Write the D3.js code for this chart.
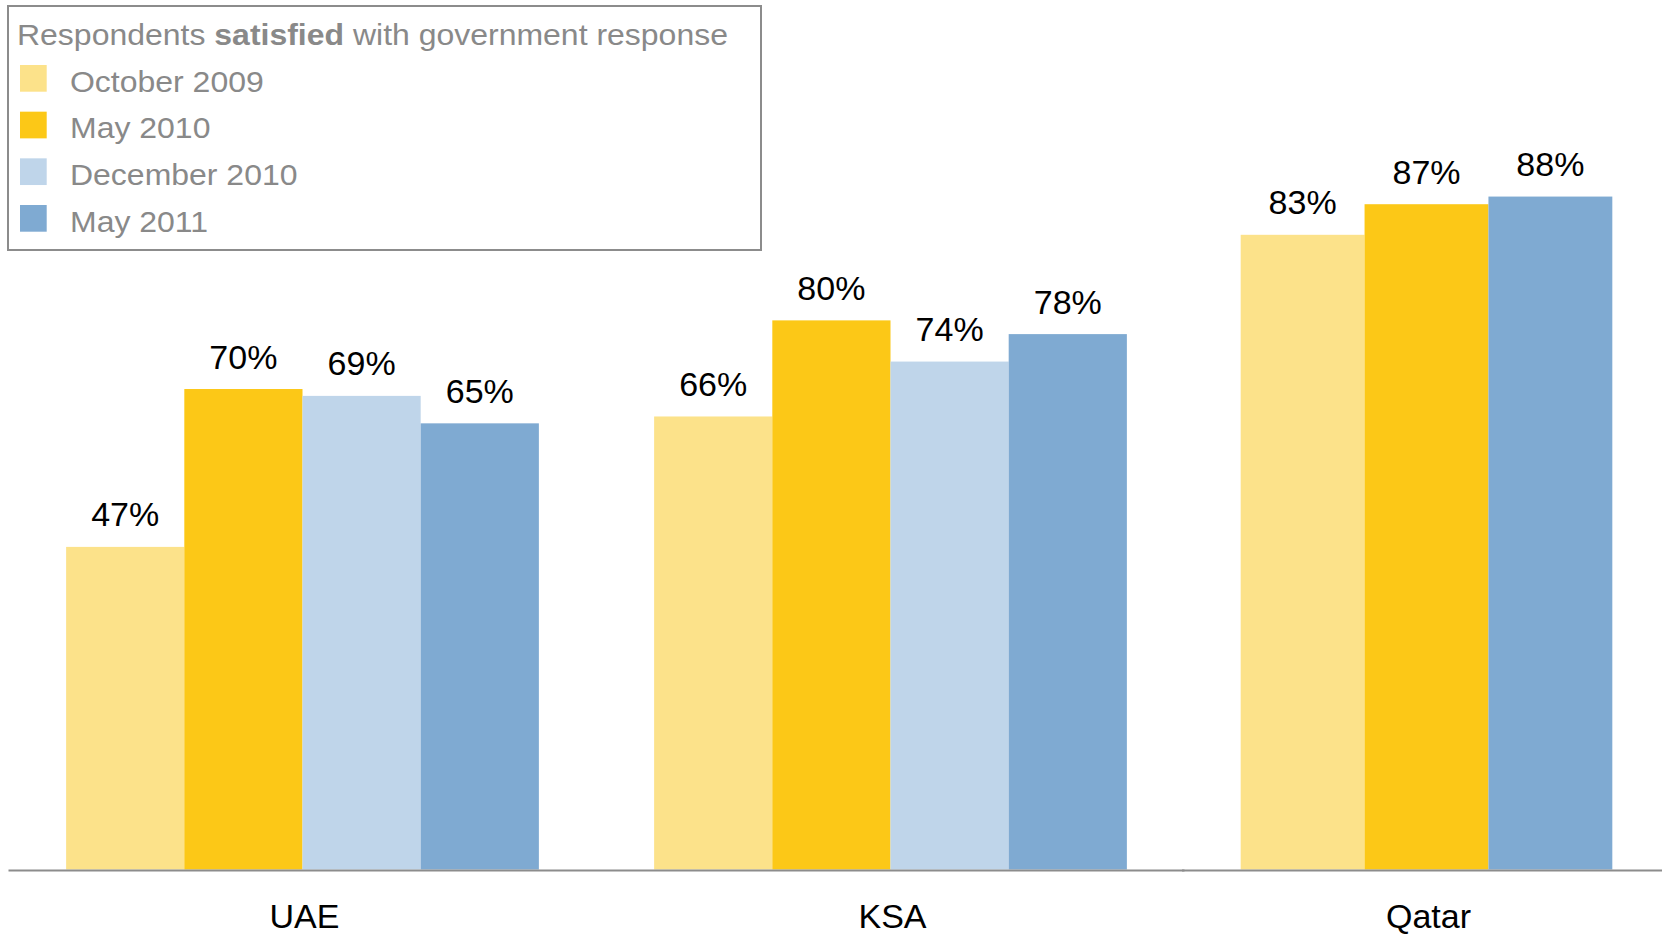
<!DOCTYPE html>
<html>
<head>
<meta charset="utf-8">
<script src="https://cdn.jsdelivr.net/npm/d3@7"></script>
<style>
  html, body { margin: 0; padding: 0; background: #fff; }
  svg { display: block; font-family: "Liberation Sans", Arial, sans-serif; }
</style>
</head>
<body>
<svg id="chart" width="1662" height="937"></svg>
<script>
// Survey waves and countries
const categories = ["UAE", "KSA", "Qatar"];
const seriesNames = ["October 2009", "May 2010", "December 2010", "May 2011"];

// Share of respondents satisfied (%), one array per wave, ordered as categories
const oct2009 = [47, 66, 83];
const may2010 = [70, 80, 87];
const dec2010 = [69, 74, null];   // no December 2010 wave in Qatar
const may2011 = [65, 78, 88];

const seriesValues = [oct2009, may2010, dec2010, may2011];
const seriesColors = ["#FCE28A", "#FCC817", "#BFD5EA", "#7FAAD2"];

const legendTitleParts = [
  { text: "Respondents ", bold: false },
  { text: "satisfied", bold: true },
  { text: " with government response", bold: false }
];

const svg = d3.select("#chart");
const baseY = 869.5;

// Two side-by-side panels sharing one baseline
const panels = [
  { cats: ["UAE", "KSA"], range: [8.5, 1184.5], top: baseY - 686.4, pad: 0.196 },
  { cats: ["Qatar"], range: [1182, 1671], top: baseY - 764.7, pad: 0.24 }
];

panels.forEach(p => {
  const x0 = d3.scaleBand().domain(p.cats).range(p.range)
    .paddingInner(p.pad).paddingOuter(p.pad / 2);
  const y = d3.scaleLinear().domain([0, 100]).range([baseY, p.top]);

  // series present in this panel
  const present = seriesNames.filter((s, si) =>
    p.cats.some(c => seriesValues[si][categories.indexOf(c)] != null));
  const x1 = d3.scaleBand().domain(present).range([0, x0.bandwidth()]).padding(0);

  const rows = [];
  p.cats.forEach(c => {
    const ci = categories.indexOf(c);
    present.forEach(s => {
      const si = seriesNames.indexOf(s);
      const v = seriesValues[si][ci];
      if (v != null) rows.push({ cat: c, series: s, value: v, color: seriesColors[si] });
    });
  });

  const g = svg.append("g");

  g.selectAll("rect.bar").data(rows).join("rect")
    .attr("class", "bar")
    .attr("x", d => x0(d.cat) + x1(d.series))
    .attr("y", d => y(d.value))
    .attr("width", x1.bandwidth())
    .attr("height", d => y(0) - y(d.value))
    .attr("fill", d => d.color);

  g.selectAll("text.val").data(rows).join("text")
    .attr("class", "val")
    .attr("x", d => x0(d.cat) + x1(d.series) + x1.bandwidth() / 2)
    .attr("y", d => y(d.value) - 20.5)
    .attr("text-anchor", "middle")
    .attr("font-size", 34)
    .attr("fill", "#000")
    .text(d => d.value + "%");

  // baseline
  g.append("line")
    .attr("x1", p.range[0]).attr("x2", Math.min(p.range[1], 1662))
    .attr("y1", baseY + 1).attr("y2", baseY + 1)
    .attr("stroke", "#8C8C8C").attr("stroke-width", 2);

  // category labels
  g.selectAll("text.cat").data(p.cats).join("text")
    .attr("class", "cat")
    .attr("x", d => x0(d) + x0.bandwidth() / 2 + 2)
    .attr("y", 928)
    .attr("text-anchor", "middle")
    .attr("font-size", 34)
    .attr("fill", "#000")
    .text(d => d);
});

// Legend
const legend = svg.append("g");
legend.append("rect")
  .attr("x", 8).attr("y", 6).attr("width", 753).attr("height", 244)
  .attr("fill", "#fff").attr("stroke", "#8C8C8C").attr("stroke-width", 2);

// legend type is set slightly wide
const wide = 1.066;
const title = legend.append("text")
  .attr("transform", `translate(17,45) scale(${wide},1)`)
  .attr("font-size", 30).attr("fill", "#898989");
title.selectAll("tspan").data(legendTitleParts).join("tspan")
  .attr("font-weight", d => d.bold ? "bold" : "normal")
  .text(d => d.text);

const rowY = d3.scalePoint().domain(seriesNames).range([65, 205]);
const items = legend.selectAll("g.item").data(seriesNames).join("g").attr("class", "item");
items.append("rect")
  .attr("x", 20).attr("y", d => rowY(d))
  .attr("width", 26.7).attr("height", 26.7)
  .attr("fill", (d, i) => seriesColors[i]);
items.append("text")
  .attr("transform", d => `translate(70,${rowY(d) + 26.7}) scale(${wide},1)`)
  .attr("font-size", 30).attr("fill", "#898989")
  .text(d => d);
</script>
</body>
</html>
